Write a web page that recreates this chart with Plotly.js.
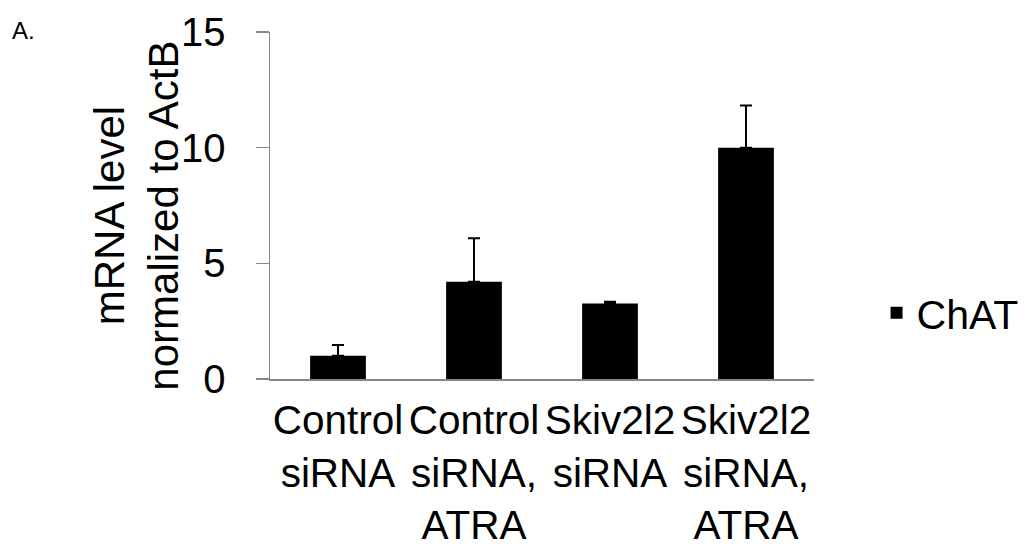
<!DOCTYPE html>
<html>
<head>
<meta charset="utf-8">
<script src="https://cdn.plot.ly/plotly-3.0.1.min.js"></script>
<style>html,body{margin:0;padding:0;background:#fff;}#chart{width:1036px;height:548px;}</style>
</head>
<body>
<div id="chart"></div>
<script>
const categories = ["Control<br>siRNA", "Control<br>siRNA,<br>ATRA", "Skiv2l2<br>siRNA", "Skiv2l2<br>siRNA,<br>ATRA"];
const seriesName = "ChAT";
const values = [1.0, 4.2, 3.26, 10.0];
const errPlus = [0.47, 1.88, 0.08, 1.82];
const errMinus = [0, 0, 0, 0];
const yTicks = [0, 5, 10, 15];
const yTitle = "mRNA level<br>normalized to ActB";
const panelLabel = "A.";

const font = "Liberation Sans, Arial, sans-serif";

const trace = {
  type: "bar",
  x: categories,
  y: values,
  name: seriesName,
  marker: {color: "#000000"},
  error_y: {type: "data", symmetric: false, array: errPlus, arrayminus: errMinus,
            color: "#000000", thickness: 2, width: 6},
  showlegend: true
};

const layout = {
  width: 1036, height: 548,
  margin: {l: 270, r: 190, t: 32, b: 169, pad: 0},
  paper_bgcolor: "#ffffff", plot_bgcolor: "#ffffff",
  font: {family: font, size: 40, color: "#000000"},
  bargap: 0.59,
  showlegend: true,
  legend: {x: 1.115, y: 0.19, xanchor: "left", yanchor: "middle",
           font: {family: font, size: 41, color: "#000000"}, itemwidth: 30},
  xaxis: {
    showline: true, linecolor: "#868686", linewidth: 1.5,
    ticks: "", showgrid: false, zeroline: false,
    tickfont: {family: font, size: 40.5, color: "#000000"},
    ticklabelstandoff: 5
  },
  yaxis: {
    range: [0, 15], tickvals: yTicks, ticktext: yTicks.map(String),
    showline: true, linecolor: "#868686", linewidth: 1.5,
    ticks: "outside", ticklen: 13, tickcolor: "#868686", tickwidth: 1.5,
    showgrid: false, zeroline: false,
    tickfont: {family: font, size: 40, color: "#000000"},
    ticklabelstandoff: 22
  },
  annotations: [
    {
      text: yTitle, xref: "paper", yref: "paper", x: -0.245, y: 0.47,
      xanchor: "center", yanchor: "middle", textangle: -90, showarrow: false,
      font: {family: font, size: 42, color: "#000000"}
    },
    {
      text: panelLabel, xref: "paper", yref: "paper", x: -0.478, y: 1.003,
      xanchor: "left", yanchor: "middle", showarrow: false,
      font: {family: font, size: 24, color: "#000000"}
    }
  ]
};

Plotly.newPlot("chart", [trace], layout, {displayModeBar: false, staticPlot: true});
</script>
</body>
</html>
